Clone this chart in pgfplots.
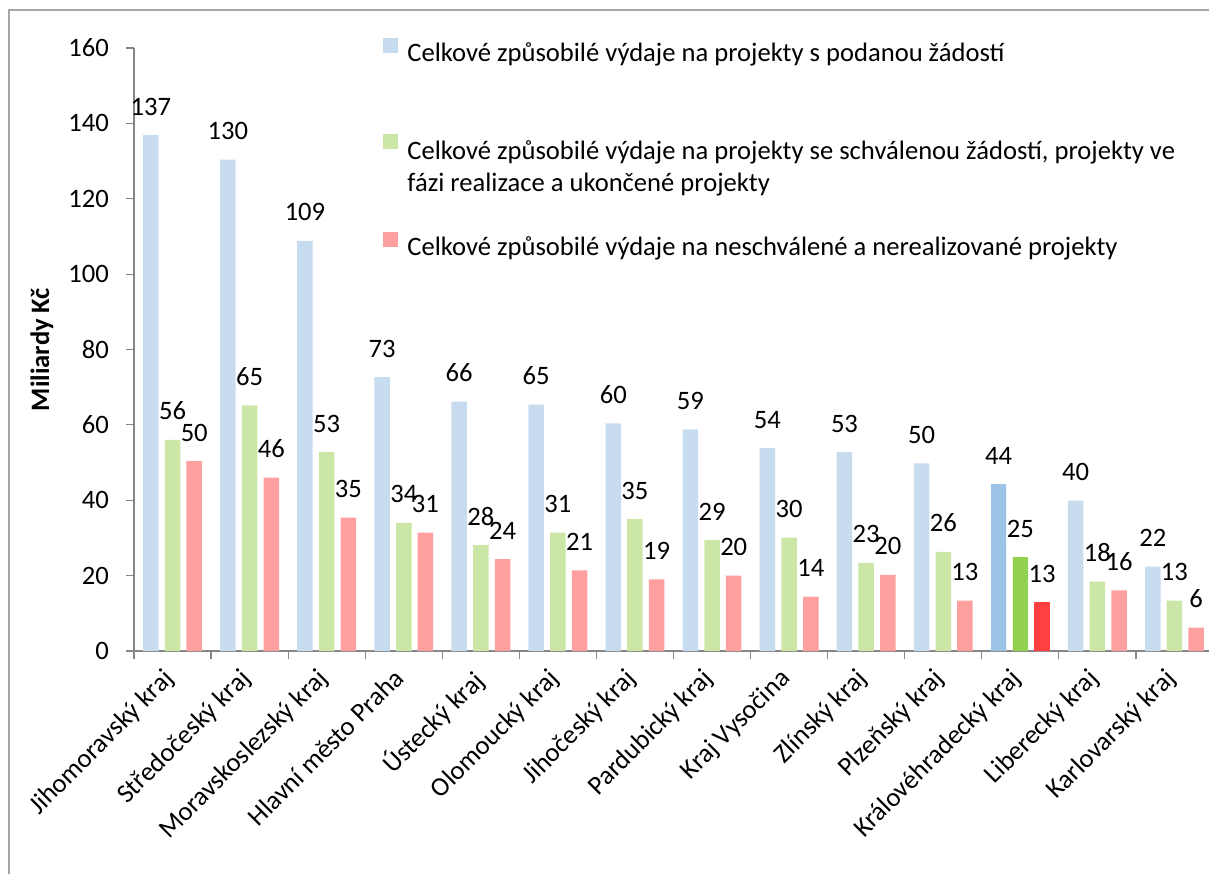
\documentclass[border=0pt]{standalone}
\usepackage{pgfplots}
\pgfplotsset{compat=1.18}
\usepackage{pgfplotstable}
\usepackage{fontspec}
\setmainfont{Carlito}
\definecolor{cblue}{RGB}{200,220,240}
\definecolor{cgreen}{RGB}{203,230,166}
\definecolor{cred}{RGB}{255,160,160}
\definecolor{hblue}{RGB}{157,195,230}
\definecolor{hgreen}{RGB}{146,208,80}
\definecolor{hred}{RGB}{255,64,64}
\definecolor{axgray}{RGB}{134,134,134}
\newcommand\cf{\fontsize{13.3pt}{16pt}\selectfont}
\pgfplotstableread{
x b g r
0 136.9 56.0 50.4
1 130.4 65.2 46.0
2 108.8 52.8 35.4
3 72.7 34.0 31.4
4 66.2 28.1 24.4
5 65.4 31.4 21.4
6 60.4 35.0 19.0
7 58.8 29.4 20.0
8 53.8 30.1 14.4
9 52.8 23.4 20.2
10 49.8 26.3 13.4
11 44.3 24.9 13.0
12 39.9 18.4 16.1
13 22.4 13.4 6.2
}\data
\pgfplotstableread{
x b g r
11 44.3 24.9 13.0
}\hl
\begin{document}
\begin{tikzpicture}
\useasboundingbox (0,0) rectangle (604.5pt,436.5pt);
\draw[black!35, line width=0.8pt] (4.5pt,-5pt) |- (620pt,431.5pt);
\begin{axis}[
  at={(67pt,111pt)}, anchor=south west,
  scale only axis, width=539.5pt, height=301.5pt,
  xmin=-0.5, xmax=13.5, ymin=0, ymax=160,
  axis x line*=bottom, axis y line*=left,
  axis line style={draw=axgray, line width=0.6pt},
  tick style={draw=axgray, line width=0.6pt},
  tick align=outside, major tick length=4pt,
  ytick={0,20,...,160},
  xtick={-0.5,0.5,...,13.5}, xticklabels={},
  extra x ticks={0,...,13},
  extra x tick labels={Jihomoravský kraj, Středočeský kraj, Moravskoslezský kraj, Hlavní město Praha, Ústecký kraj, Olomoucký kraj, Jihočeský kraj, Pardubický kraj, Kraj Vysočina, Zlínský kraj, Plzeňský kraj, Královéhradecký kraj, Liberecký kraj, Karlovarský kraj},
  extra x tick style={tick style={draw=none}},
  xticklabel style={font=\cf, xshift=-5.5pt, yshift=1pt, rotate=45, anchor=north east},
  yticklabel style={font=\cf, xshift=-5pt},
  /pgf/number format/assume math mode=true,
  ylabel={\bfseries Miliardy Kč},
  every axis y label/.style={at={(axis description cs:-0.0853,0.5)}, rotate=90, anchor=center, font=\cf},
  nodes near coords={\pgfmathprintnumber[fixed,precision=0]{\pgfplotspointmeta}},
  nodes near coords style={font=\cf, anchor=base, yshift=10pt},
  legend cell align=left,
  legend style={at={(axis description cs:0.2308,1.035)}, anchor=north west, draw=none, fill=none,
    font=\cf, row sep=29.6pt, inner sep=0pt, cells={anchor=west}, nodes={inner sep=0pt},
    /tikz/every odd column/.append style={column sep=4.5pt}},
  legend image code/.code={\fill[#1] (0pt,0pt) rectangle (7.5pt,7.5pt); \path (0pt,13pt);},
]
\addplot[ybar, bar width=7.75pt, bar shift=-10.85pt, fill=cblue, draw=none,
  every node near coord/.append style={xshift=-10.85pt}] table[x=x,y=b]{\data};
\addlegendentry{Celkové způsobilé výdaje na projekty s podanou žádostí}
\addplot[ybar, bar width=7.75pt, bar shift=0pt, fill=cgreen, draw=none] table[x=x,y=g]{\data};
\addlegendentry{\begin{tabular}[t]{@{}l@{}}Celkové způsobilé výdaje na projekty se schválenou žádostí, projekty ve\\ fázi realizace a ukončené projekty\end{tabular}}
\addplot[ybar, bar width=7.75pt, bar shift=10.85pt, fill=cred, draw=none,
  every node near coord/.append style={xshift=10.85pt}] table[x=x,y=r]{\data};
\addlegendentry{Celkové způsobilé výdaje na neschválené a nerealizované projekty}
\addplot[ybar, bar width=7.75pt, bar shift=-10.85pt, fill=hblue, draw=none, nodes near coords={}, forget plot] table[x=x,y=b]{\hl};
\addplot[ybar, bar width=7.75pt, bar shift=0pt, fill=hgreen, draw=none, nodes near coords={}, forget plot] table[x=x,y=g]{\hl};
\addplot[ybar, bar width=7.75pt, bar shift=10.85pt, fill=hred, draw=none, nodes near coords={}, forget plot] table[x=x,y=r]{\hl};
\end{axis}
\end{tikzpicture}
\end{document}
